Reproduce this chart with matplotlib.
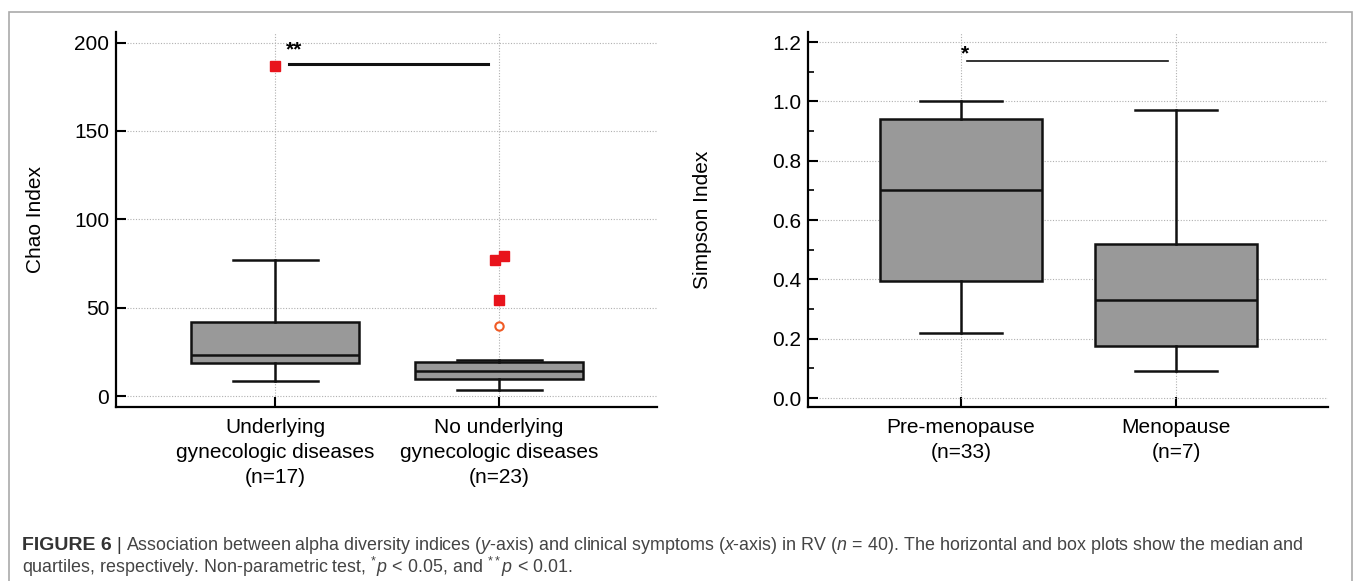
import matplotlib
matplotlib.use("Agg")
import matplotlib.pyplot as plt
from matplotlib.patches import Rectangle

plt.rcParams['font.family'] = ['Liberation Sans', 'DejaVu Sans']
plt.rcParams['mathtext.fontset'] = 'custom'
plt.rcParams['mathtext.rm'] = 'Liberation Sans'
plt.rcParams['mathtext.it'] = 'Liberation Sans:italic'

# left panel: Chao index
chao_labels = ['Underlying\ngynecologic diseases\n(n=17)',
               'No underlying\ngynecologic diseases\n(n=23)']
chao_whislo = [8.5, 3.5]
chao_q1 = [18.5, 9.5]
chao_med = [23.5, 14.0]
chao_q3 = [42.0, 19.5]
chao_whishi = [77.0, 20.5]
chao_far = [[187.0], [77.0, 79.5, 54.5]]   # red squares
chao_near = [[], [39.5]]                  # open circles

# right panel: Simpson index
simp_labels = ['Pre-menopause\n(n=33)', 'Menopause\n(n=7)']
simp_whislo = [0.22, 0.09]
simp_q1 = [0.395, 0.175]
simp_med = [0.70, 0.33]
simp_q3 = [0.94, 0.52]
simp_whishi = [1.00, 0.97]

BOX = '#999999'
RED = '#e8141c'
ORANGE = '#f05a24'
FS = 15

fig = plt.figure(figsize=(13.57, 5.81), dpi=100)


def stats(lo, q1, med, q3, hi):
    return [dict(whislo=a, q1=b, med=c, q3=d, whishi=e, fliers=[])
            for a, b, c, d, e in zip(lo, q1, med, q3, hi)]


def style(ax, labels):
    ax.set_xlim(0.29, 2.705)
    ax.set_xticks([1, 2])
    ax.set_xticklabels(labels, fontsize=FS, linespacing=1.4)
    for s in ['top', 'right']:
        ax.spines[s].set_visible(False)
    for s in ['left', 'bottom']:
        ax.spines[s].set_linewidth(1.6)
    ax.tick_params(direction='in', length=7, width=1.5, labelsize=FS)
    ax.tick_params(axis='x', pad=8)
    ax.tick_params(axis='y', pad=5)
    ax.tick_params(which='minor', direction='in', length=4.5, width=1.2)
    ax.grid(True, which='major', linestyle=(0, (1, 1.5)), color='#b0b0b0',
            linewidth=0.8)
    ax.set_axisbelow(True)


def boxes(ax, st):
    ax.bxp(st, positions=[1, 2], widths=0.75, capwidths=0.38,
           patch_artist=True, showfliers=False, manage_ticks=False,
           boxprops=dict(facecolor=BOX, edgecolor='#111111', linewidth=1.8),
           medianprops=dict(color='#111111', linewidth=1.8),
           whiskerprops=dict(color='#111111', linewidth=1.8),
           capprops=dict(color='#111111', linewidth=1.8))


# ---- left
ax1 = fig.add_axes([0.0855, 0.2995, 0.3987, 0.6454])
boxes(ax1, stats(chao_whislo, chao_q1, chao_med, chao_q3, chao_whishi))
style(ax1, chao_labels)
ax1.set_ylim(-6.2, 206)
ax1.set_yticks([0, 50, 100, 150, 200])
jit = {1: [0.0], 2: [-0.018, 0.02, 0.0]}
for i, vals in enumerate(chao_far):
    xs = [i + 1 + jit[i + 1][k] for k in range(len(vals))]
    ax1.plot(xs, vals, 's', color=RED, markersize=6.5, zorder=5)
for i, vals in enumerate(chao_near):
    ax1.plot([i + 1] * len(vals), vals, 'o', mfc='white', mec=ORANGE,
             mew=1.5, markersize=6, zorder=5)
ax1.set_ylabel('Chao Index', fontsize=FS)
ax1.yaxis.set_label_coords(-0.131, 0.5)
ax1.plot([1.06, 1.95], [188, 188], color='#111111', lw=2.2)
ax1.text(1.05, 196, '**', fontsize=FS, fontweight='bold', va='center')

# ---- right
ax2 = fig.add_axes([0.5954, 0.2995, 0.3832, 0.6454])
boxes(ax2, stats(simp_whislo, simp_q1, simp_med, simp_q3, simp_whishi))
style(ax2, simp_labels)
ax2.set_ylim(-0.03, 1.234)
ax2.set_yticks([0.0, 0.2, 0.4, 0.6, 0.8, 1.0, 1.2])
ax2.set_yticks([0.1, 0.3, 0.5, 0.7, 0.9, 1.1], minor=True)
ax2.set_yticklabels(['0.0', '0.2', '0.4', '0.6', '0.8', '1.0', '1.2'])
ax2.set_ylabel('Simpson Index', fontsize=FS)
ax2.yaxis.set_label_coords(-0.185, 0.5)
ax2.plot([1.03, 1.96], [1.136, 1.136], color='#111111', lw=1.2)
ax2.text(1.0, 1.16, '*', fontsize=FS, fontweight='bold', va='center')

# frame and caption
fig.patches.append(Rectangle((9 / 1357, -0.05), (1352 - 9) / 1357, 1.05 - 12 / 581,
                             transform=fig.transFigure, fill=False,
                             edgecolor='#aaaaaa', linewidth=1.2))
cap_fs = 12.9
t0 = fig.text(22 / 1357, 1 - 545 / 581, 'FIGURE 6', fontsize=14,
              fontweight='bold', color='#333333', va='center')
t1 = fig.add_artist(plt.Annotation(' | ', xy=(1, 0.5), xycoords=t0,
                                   va='center', ha='left', fontsize=cap_fs,
                                   color='#333333', annotation_clip=False))
line1 = (r'Association between alpha diversity indices ($y$-axis) and clinical '
         r'symptoms ($x$-axis) in RV ($n\,{=}\,40$). The horizontal and box '
         r'plots show the median and')
fig.add_artist(plt.Annotation(line1, xy=(1, 0.5), xycoords=t1, va='center',
                              ha='left', fontsize=cap_fs, color='#444444',
                              annotation_clip=False))
line2 = (r'quartiles, respectively. Non-parametric test, $^{*}p\,{<}\,0.05$, '
         r'and $^{**}p\,{<}\,0.01$.')
fig.text(22 / 1357, 1 - 567 / 581, line2, fontsize=cap_fs, color='#444444',
         va='center')

fig.savefig('out.png', dpi=100)
